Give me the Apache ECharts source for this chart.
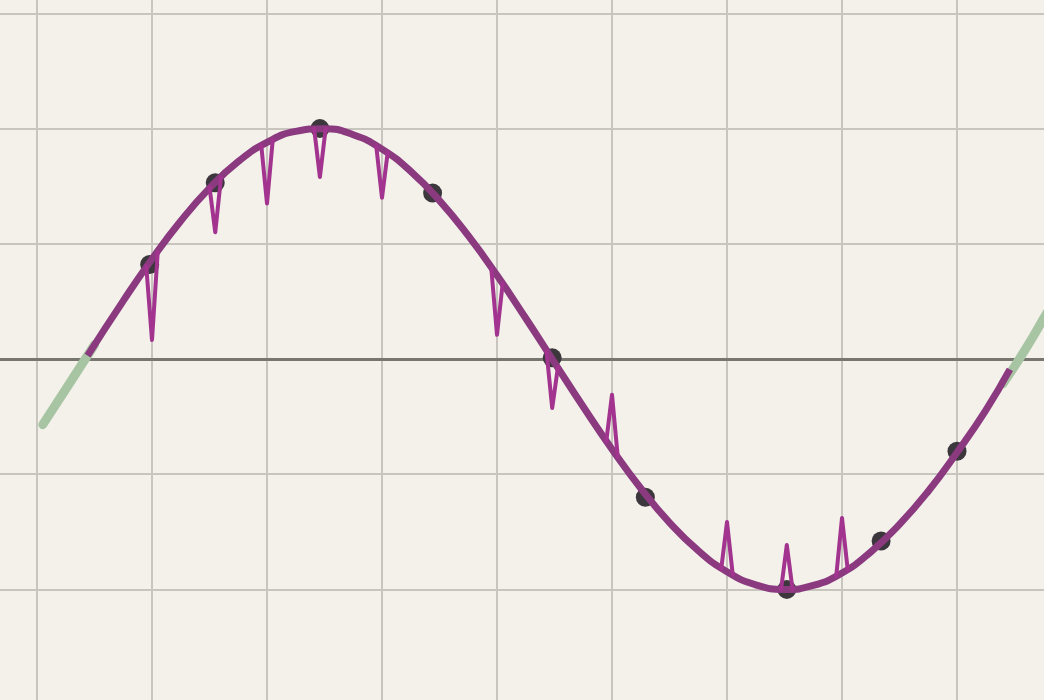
<!DOCTYPE html>
<html><head><meta charset="utf-8">
<script src="https://cdn.jsdelivr.net/npm/echarts@6/dist/echarts.min.js"></script>
<style>html,body{margin:0;padding:0;background:#f3f1ea}#c{width:1044px;height:700px}</style>
</head><body><div id="c"></div>
<script>
// Background (green) curve pieces visible beyond the main curve
const greenLeftX  = [0.05, 0.25, 0.50];
const greenLeftY  = [-0.57, -0.262, 0.124];
const greenRightX = [8.40, 8.60, 8.80, 9.00];
const greenRightY = [-0.215, 0.093, 0.43, 0.75];
// Main (purple) curve
const purpleX = [0.44, 0.75, 1.0, 1.25, 1.5, 1.75, 2.0, 2.25, 2.5, 2.75, 3.0, 3.25, 3.5, 3.75, 4.0, 4.25,
                 4.5, 4.75, 5.0, 5.25, 5.5, 5.75, 6.0, 6.25, 6.5, 6.75, 7.0, 7.25, 7.5, 7.75, 8.0, 8.25, 8.46];
const purpleY = [0.03, 0.505, 0.868, 1.198, 1.483, 1.714, 1.880, 1.976, 1.999, 1.947, 1.822, 1.629, 1.375, 1.070, 0.726, 0.354,
                 -0.031, -0.415, -0.783, -1.122, -1.420, -1.664, -1.847, -1.960, -2.000, -1.966, -1.858, -1.675, -1.436, -1.148, -0.811, -0.445, -0.09];
// Sample points
const dotX = [0.98, 1.55, 2.46, 3.44, 4.48, 5.29, 6.52, 7.34, 8.00];
const dotY = [0.82, 1.53, 2.00, 1.44, 0.01, -1.20, -2.00, -1.58, -0.80];
// Spikes: position, curve value left/right of spike, tip value
const spikeX      = [1, 1.55, 2, 2.46, 3, 4, 4.48, 5, 6, 6.52, 7];
const spikeLeftY  = [0.806, 1.492, 1.857, 1.999, 1.848, 0.791, 0.070, -0.717, -1.820, -2.0, -1.883];
const spikeTipY   = [0.165, 1.10, 1.35, 1.58, 1.40, 0.21, -0.425, -0.31, -1.415, -1.615, -1.38];
const spikeRightY = [0.930, 1.576, 1.903, 1.999, 1.796, 0.661, -0.070, -0.849, -1.873, -2.0, -1.832];

const HALF = 0.05;
const zip = (xs, ys) => xs.map((x, i) => [x, ys[i]]);
const green = { color: '#a8c5a3', width: 9, cap: 'round' };

const series = [
  { type: 'line', data: zip(greenLeftX, greenLeftY), smooth: true, symbol: 'none', z: 2, lineStyle: green },
  { type: 'line', data: zip(greenRightX, greenRightY), smooth: true, symbol: 'none', z: 2, lineStyle: green },
  { type: 'scatter', data: zip(dotX, dotY), symbolSize: 19, z: 3,
    itemStyle: { color: '#3b373d', opacity: 1 } },
  { type: 'line', data: zip(purpleX, purpleY), smooth: true, symbol: 'none', z: 4,
    lineStyle: { color: '#8b3a80', width: 7, cap: 'butt' } }
];
spikeX.forEach((x, i) => {
  series.push({ type: 'line', symbol: 'none', z: 5,
    data: [[x - HALF, spikeLeftY[i]], [x, spikeTipY[i]], [x + HALF, spikeRightY[i]]],
    lineStyle: { color: '#a2338f', width: 4, join: 'round', cap: 'round' } });
});

const chart = echarts.init(document.getElementById('c'), null, { renderer: 'canvas' });
chart.setOption({
  backgroundColor: '#f3f1ea',
  animation: false,
  grid: { left: -78, top: -101.8, width: 1150, height: 806.4, outerBoundsMode: 'none', containLabel: false },
  xAxis: { type: 'value', min: -1, max: 9, interval: 1,
    axisLine: { show: true, onZero: true, lineStyle: { color: '#77766f', width: 3 } },
    axisTick: { show: false }, axisLabel: { show: false },
    splitLine: { show: true, lineStyle: { color: '#c8c5be', width: 2 } } },
  yAxis: { type: 'value', min: -3, max: 4, interval: 1,
    axisLine: { show: false }, axisTick: { show: false }, axisLabel: { show: false },
    splitLine: { show: true, lineStyle: { color: '#c8c5be', width: 2 } } },
  series
});
</script></body></html>
